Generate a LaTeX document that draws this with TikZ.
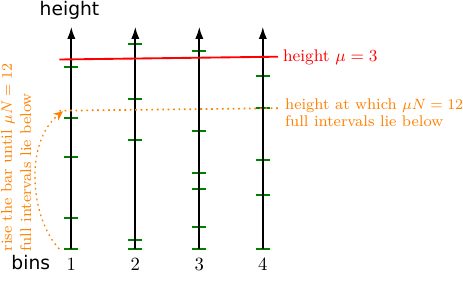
\documentclass[tikz,border=0pt]{standalone}
\usepackage{fontspec}
\newfontfamily\djv{DejaVu Sans}
\usetikzlibrary{arrows.meta}
\begin{document}
\begin{tikzpicture}[x=0.535pt,y=-0.535pt,
  bar/.style={line width=1pt,-{Latex[length=6.5pt,width=4.4pt]}},
  tickm/.style={draw=green!50!black,line width=1pt},
  muline/.style={red,line width=1pt},
  cutline/.style={orange,line width=0.9pt,dotted},
  lbl/.style={inner sep=0pt},
  sans/.style={inner sep=0pt,font=\djv\fontsize{10}{12}\selectfont},
  note/.style={inner sep=0pt,align=left,font=\fontsize{8.3}{9}\selectfont}]
\useasboundingbox (0,0) rectangle (463,296);
% bars
\foreach \i/\x in {1/71.3,2/135.3,3/199.3,4/262.8}{
  \coordinate (b\i) at (\x,249.3);
  \coordinate (t\i) at (\x,26.7);
}
% ticks
\foreach \y in {66.7,118,156.7,217.7,249.3} \draw[tickm] (64.3,\y) -- (78.3,\y);
\foreach \y in {44,99,140.3,240,249.3} \draw[tickm] (128.3,\y) -- (142.3,\y);
\foreach \y in {51,130.7,172.7,189,227.3,249.3} \draw[tickm] (192.3,\y) -- (206.3,\y);
\foreach \y in {76.3,108.3,160,195,249.3} \draw[tickm] (255.8,\y) -- (269.8,\y);
\foreach \i in {1,2,3,4} \draw[bar] (b\i) -- (t\i);
% labels under bars
\foreach \i in {1,2,3,4} \node[lbl,anchor=base] (n\i) at ([yshift=-20.7*0.535pt]b\i) {\i};
\node[sans,anchor=base] (bins) at (30.8,269.6) {bins};
\node[sans,anchor=base] (height) at (69.5,15.2) {height};
% mu line
\coordinate (r0) at (59.3,59.5);
\coordinate (r1) at (278,56.7);
\draw[muline] (r0) -- (r1);
\node[note,red,anchor=base west,font=\fontsize{9}{9}\selectfont] (mulbl) at (282.7,61.7) {height $\mu=3$};
% cut line
\coordinate (o0) at (59.3,110.7);
\coordinate (o1) at (278,108.2);
\draw[cutline] (o0) -- (o1);
\node[note,orange,anchor=north west] (cutlbl) at (284.8,98.2) {height at which $\mu N=12$\\full intervals lie below};
% rotated note and arrow
\node[note,orange,anchor=north west,rotate=90,font=\fontsize{8.3}{10.2}\selectfont] (rise) at (0.8,251.7) {rise the bar until $\mu N=12$\\full intervals lie below};
\coordinate (cs) at (59.3,249);
\coordinate (ce) at (63,111.3);
\draw[cutline,line width=0.7pt,-{Stealth[length=5pt,width=4.5pt]}] (cs) .. controls (30,218) and (24,142) .. (ce);
\end{tikzpicture}
\end{document}
